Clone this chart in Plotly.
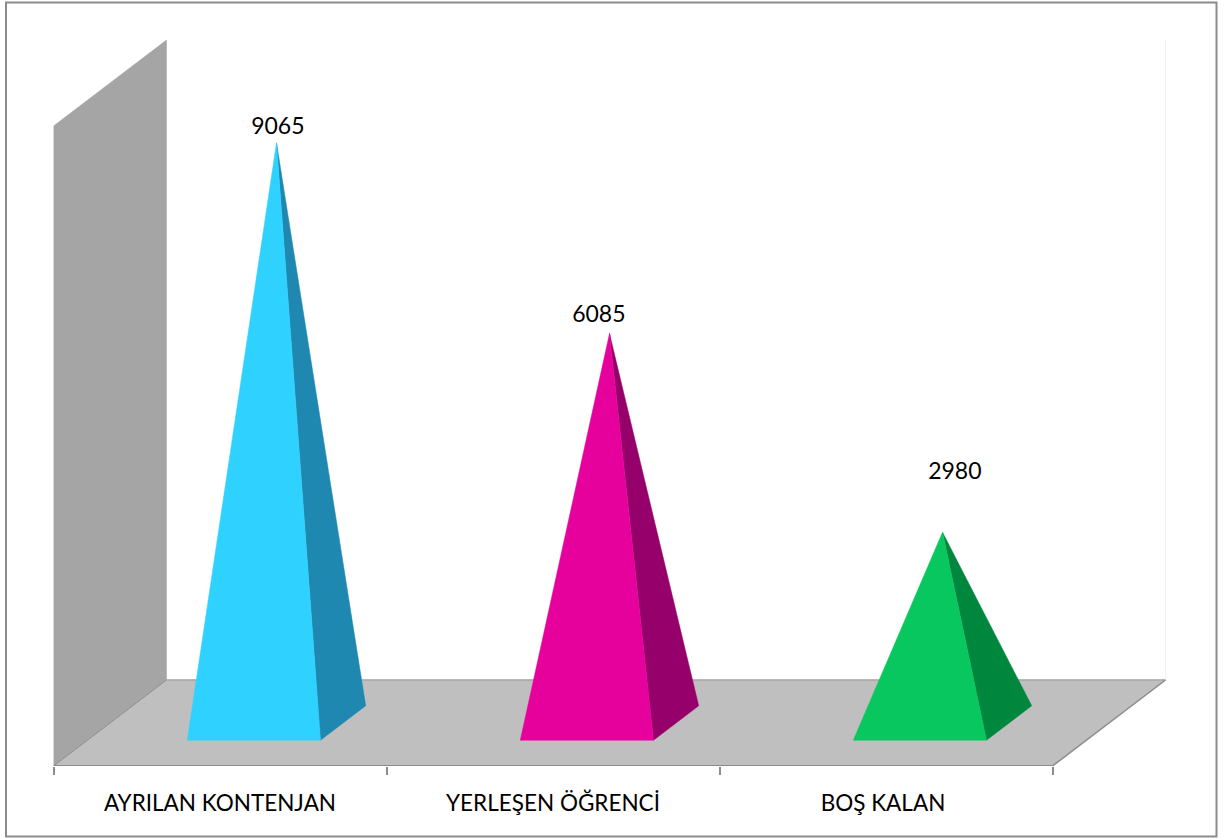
import plotly.graph_objects as go

categories = ["AYRILAN KONTENJAN", "YERLEŞEN ÖĞRENCİ", "BOŞ KALAN"]
values = [9065, 6085, 2980]
front_colors = ["#2FD2FF", "#E6019D", "#09C75F"]
side_colors = ["#1F88B0", "#96006A", "#00873E"]
label_dx = [0.004, -0.032, 0.037]
label_dy = [234, 264, 919]
tick_label_nudge = [0.0, 0.0, -0.009]

W, H = 1224, 838
LEFT, RIGHT, TOP, BOTTOM = 53.5, 1166.5, 40, 766
PX_PER_CAT = 333.0
PX_PER_VAL = 0.064
DEPTH_X = 113 / PX_PER_CAT
DEPTH_Y = 86 / PX_PER_VAL
VAL_MAX = 10000
N = len(categories)


def proj(x, y, d):
    return x + d * DEPTH_X, y + d * DEPTH_Y


def poly(points, color, name):
    pts = [proj(*p) for p in points]
    pts.append(pts[0])
    return go.Scatter(
        x=[p[0] for p in pts], y=[p[1] for p in pts], mode="lines", fill="toself",
        fillcolor=color, line=dict(color=color, width=0.5), hoverinfo="skip",
        showlegend=False, name=name,
    )


def edge(points, color, width):
    pts = [proj(*p) for p in points]
    return go.Scatter(
        x=[p[0] for p in pts], y=[p[1] for p in pts], mode="lines",
        line=dict(color=color, width=width), hoverinfo="skip", showlegend=False,
    )


fig = go.Figure()

# walls and floor
fig.add_trace(poly([(0, 0, 0), (0, 0, 1), (0, VAL_MAX, 1), (0, VAL_MAX, 0)], "#A5A5A5", "wall"))
fig.add_trace(poly([(0, 0, 0), (N, 0, 0), (N, 0, 1), (0, 0, 1)], "#BFBFBF", "floor"))
fig.add_trace(edge([(N, 0, 1), (N, VAL_MAX, 1)], "#F2F2F2", 1))
fig.add_trace(edge([(0, 0, 1), (N, 0, 1)], "#A6A6A6", 1.5))
fig.add_trace(edge([(0, 0, 0), (0, 0, 1)], "#8C8C8C", 1))
fig.add_trace(edge([(N, 0, 0), (N, 0, 1)], "#8C8C8C", 1.5))
fig.add_trace(edge([(0, 0, 0), (N, 0, 0)], "#8C8C8C", 2))

# pyramids
for i, v in enumerate(values):
    fl = (i + 0.3, 0, 0.3)
    fr = (i + 0.7, 0, 0.3)
    br = (i + 0.7, 0, 0.7)
    apex = (i + 0.5, v, 0.5)
    fig.add_trace(poly([fr, br, apex], side_colors[i], categories[i] + " side"))
    fig.add_trace(poly([fl, fr, apex], front_colors[i], categories[i]))

# data labels
apexes = [proj(i + 0.5, v, 0.5) for i, v in enumerate(values)]
fig.add_trace(go.Scatter(
    x=[a[0] + dx for a, dx in zip(apexes, label_dx)],
    y=[a[1] + dy for a, dy in zip(apexes, label_dy)],
    mode="text", text=[str(v) for v in values], textposition="middle center",
    textfont=dict(family="Lato", size=23, color="#000000"),
    hoverinfo="skip", showlegend=False,
))

fig.update_layout(
    width=W, height=H, margin=dict(l=0, r=0, t=0, b=0),
    paper_bgcolor="white", plot_bgcolor="rgba(0,0,0,0)", showlegend=False,
    font=dict(family="Lato", size=22.5, color="#000000"),
    xaxis=dict(
        domain=[LEFT / W, RIGHT / W], range=[0, (RIGHT - LEFT) / PX_PER_CAT],
        tickmode="array", tickvals=[i + 0.5 + n for i, n in zip(range(N), tick_label_nudge)],
        ticktext=categories,
        ticks="", ticklabelstandoff=21, showgrid=False, zeroline=False, showline=False,
        automargin=False, fixedrange=True,
        minor=dict(tickmode="array", tickvals=list(range(N + 1)), ticks="outside",
                   ticklen=8, tickwidth=2, tickcolor="#8C8C8C", showgrid=False),
    ),
    yaxis=dict(
        domain=[(H - BOTTOM) / H, (H - TOP) / H], range=[0, (BOTTOM - TOP) / PX_PER_VAL],
        visible=False, showgrid=False, zeroline=False, fixedrange=True,
    ),
    shapes=[dict(type="rect", xref="paper", yref="paper", layer="below",
                 x0=6 / W, x1=1216.5 / W, y0=(H - 836.5) / H, y1=(H - 2.5) / H,
                 line=dict(color="#8C8C8C", width=2), fillcolor="white")],
)

fig.write_html("out.html", post_script="document.body.style.margin='0';",
               config=dict(displayModeBar=False))
